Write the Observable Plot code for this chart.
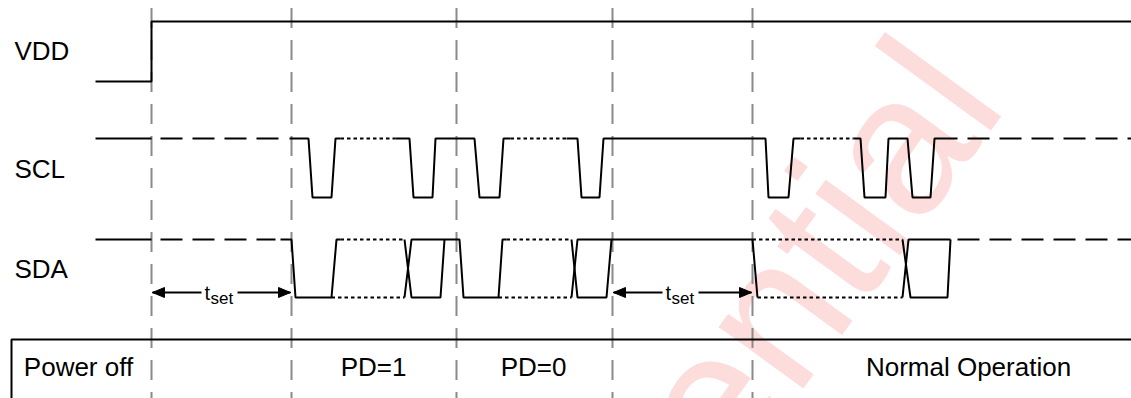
<!DOCTYPE html>
<html>
<head>
<meta charset="utf-8">
<script src="https://cdn.jsdelivr.net/npm/d3@7"></script>
<script src="https://cdn.jsdelivr.net/npm/@observablehq/plot@0.6"></script>
<style>
  html, body { margin: 0; padding: 0; background: #fff; }
  #chart svg { display: block; }
</style>
</head>
<body>
<div id="chart"></div>
<script>
const W = 1131, H = 398;

// ---------- data ----------
const signalNames = ["VDD", "SCL", "SDA"];
const signalLabelY = [51, 169, 269];
const highLevelY = [21, 138, 239];
const lowLevelY = [81, 197, 297];

const phaseNames = ["Power off", "PD=1", "PD=0", "Normal Operation"];
const phaseCenters = [78, 373, 533, 968];
const phaseLabelY = 367;
const phaseFrame = [[11, 398], [11, 339], [1131, 339]];

const markerTimes = [151, 291, 456, 612, 752];

const tsetIntervals = [[151, 291], [612, 752]];
const tsetY = 292;

// waveforms as [time, level] (level 1 = high, 0 = low)
const vddSolid = [[[95, 0], [151, 0], [151, 1], [1131, 1]]];

const sclSolid = [
  [[95, 1], [151, 1]],
  [[289, 1], [308, 1], [312, 0], [331, 0], [335, 1], [340, 1]],
  [[395, 1], [409, 1], [413, 0], [432, 0], [435, 1], [474, 1], [479, 0], [499, 0], [503, 1], [510, 1]],
  [[566, 1], [577, 1], [581, 0], [599, 0], [603, 1], [765, 1], [768, 0], [788, 0], [793, 1], [800, 1]],
  [[853, 1], [860, 1], [864, 0], [885, 0], [888, 1], [907, 1], [912, 0], [930, 0], [934, 1], [957, 1]]
];
const sclDotted = [
  [[340, 1], [395, 1]],
  [[510, 1], [566, 1]],
  [[800, 1], [853, 1]]
];
const sclDashed = [
  [[160, 1], [285, 1]],
  [[967, 1], [1131, 1]]
];

const sdaSolid = [
  [[95, 1], [151, 1]],
  [[280, 1], [291, 1], [295, 0], [331, 0], [336, 1], [340, 1]],
  [[404, 1], [411, 0], [440, 0], [444, 1]],
  [[404, 0], [411, 1], [459, 1], [463, 0], [498, 0], [502, 1], [506, 1]],
  [[571, 1], [577, 0], [606, 0], [611, 1]],
  [[571, 0], [577, 1], [752, 1], [757, 0]],
  [[902, 1], [910, 0], [947, 0], [950, 1]],
  [[902, 0], [908, 1], [950, 1]]
];
const sdaDotted = [
  [[340, 1], [404, 1]],
  [[331, 0], [404, 0]],
  [[506, 1], [571, 1]],
  [[498, 0], [571, 0]],
  [[752, 1], [902, 1]],
  [[757, 0], [902, 0]]
];
const sdaDashed = [
  [[160, 1], [275, 1]],
  [[957, 1], [1131, 1]]
];

const watermarkText = "Confidential";

// ---------- build rows ----------
let segId = 0;
function rows(segs, sig) {
  const out = [];
  for (const seg of segs) {
    const id = segId++;
    for (const [t, lvl] of seg) {
      out.push({ t, y: lowLevelY[sig] - lvl * (lowLevelY[sig] - highLevelY[sig]), id });
    }
  }
  return out;
}
const solidRows = [...rows(vddSolid, 0), ...rows(sclSolid, 1), ...rows(sdaSolid, 2)];
const dottedRows = [...rows(sclDotted, 1), ...rows(sdaDotted, 2)];
const dashedRows = [...rows(sclDashed, 1), ...rows(sdaDashed, 2)];

const markerRows = markerTimes.map(t => ({ t }));
const signalRows = signalNames.map((name, i) => ({ name, y: signalLabelY[i] }));
const phaseRows = phaseNames.map((name, i) => ({ name, t: phaseCenters[i] }));
const frameRows = phaseFrame.map(([t, y]) => ({ t, y }));

// t_set arrows
const arrowLines = [];
const arrowHeads = [];
const tsetLabels = [];
tsetIntervals.forEach(([a, b], k) => {
  const c = (a + b) / 2;
  arrowLines.push({ x1: a + 1, x2: c - 20 }, { x1: c + 16, x2: b - 1 });
  const L = 12, hw = 5;
  [[a + 1, 1], [b - 1, -1]].forEach(([tip, dir], j) => {
    const id = k * 2 + j;
    arrowHeads.push(
      { t: tip, y: tsetY, id },
      { t: tip + dir * L, y: tsetY - hw, id },
      { t: tip + dir * L, y: tsetY + hw, id },
      { t: tip, y: tsetY, id }
    );
  });
  tsetLabels.push({ c });
});

const font = "Liberation Sans, Arial, Helvetica, sans-serif";

const chart = Plot.plot({
  width: W,
  height: H,
  margin: 0,
  x: { domain: [0, W], range: [0, W], axis: null },
  y: { domain: [0, H], range: [0, H], axis: null },
  style: { background: "#fff" },
  marks: [
    // watermark
    Plot.text([watermarkText], {
      x: () => 957, y: () => 68, text: d => d,
      rotate: -54, fontSize: 198, fontFamily: font,
      fill: "#fddcdc", textAnchor: "end", lineAnchor: "middle"
    }),
    // grey dashed time markers
    Plot.ruleX(markerRows, {
      x: "t", y1: () => 8, y2: () => H,
      stroke: "#8a8a8a", strokeWidth: 2, strokeDasharray: "20,12"
    }),
    // phase frame
    Plot.line(frameRows, {
      x: "t", y: "y", stroke: "black", strokeWidth: 2,
      strokeLinejoin: "miter", strokeLinecap: "butt"
    }),
    // waveforms
    Plot.line(solidRows, {
      x: "t", y: "y", z: "id", stroke: "black", strokeWidth: 2,
      strokeLinejoin: "miter", strokeLinecap: "butt"
    }),
    Plot.line(dottedRows, {
      x: "t", y: "y", z: "id", stroke: "black", strokeWidth: 2,
      strokeDasharray: "3.5,3", strokeLinecap: "butt"
    }),
    Plot.line(dashedRows, {
      x: "t", y: "y", z: "id", stroke: "black", strokeWidth: 2,
      strokeDasharray: "22,10", strokeLinecap: "butt"
    }),
    // t_set arrows
    Plot.link(arrowLines, {
      x1: "x1", x2: "x2", y1: () => tsetY, y2: () => tsetY,
      stroke: "black", strokeWidth: 2
    }),
    Plot.line(arrowHeads, {
      x: "t", y: "y", z: "id", fill: "black", stroke: "black", strokeWidth: 1
    }),
    Plot.text(tsetLabels, {
      x: d => d.c - 17, y: () => 293, text: () => "t",
      fontSize: 20, fontFamily: font, fill: "black", textAnchor: "start", lineAnchor: "middle"
    }),
    Plot.text(tsetLabels, {
      x: d => d.c - 11, y: () => 298, text: () => "set",
      fontSize: 17, fontFamily: font, fill: "black", textAnchor: "start", lineAnchor: "middle"
    }),
    // signal labels
    Plot.text(signalRows, {
      x: () => 14, y: "y", text: "name",
      fontSize: 26, fontFamily: font, fill: "black", textAnchor: "start", lineAnchor: "middle"
    }),
    // phase labels
    Plot.text(phaseRows, {
      x: "t", y: () => phaseLabelY, text: "name",
      fontSize: 26, fontFamily: font, fill: "black", textAnchor: "middle", lineAnchor: "middle"
    })
  ]
});

document.getElementById("chart").appendChild(chart);
</script>
</body>
</html>
